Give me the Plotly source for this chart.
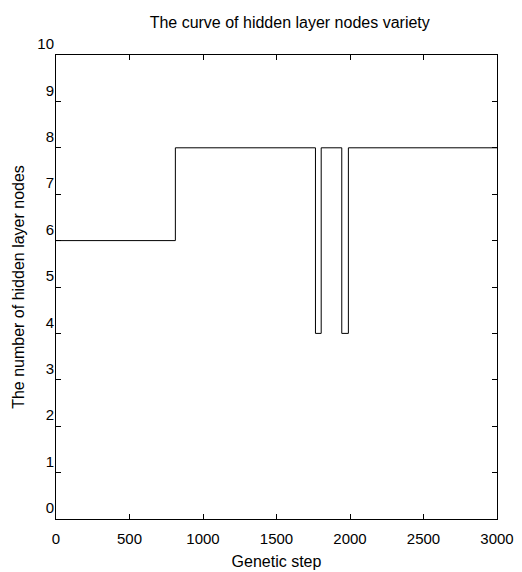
import plotly.graph_objects as go

# Step boundaries (genetic step) and node counts
steps = [0, 812, 812, 1765, 1765, 1804, 1804, 1944, 1944, 1989, 1989, 3000]
nodes = [6, 6, 8, 8, 4, 4, 8, 8, 4, 4, 8, 8]

x_ticks = [0, 500, 1000, 1500, 2000, 2500, 3000]
y_ticks = [0, 1, 2, 3, 4, 5, 6, 7, 8, 9, 10]

fig = go.Figure()
fig.add_trace(go.Scatter(x=steps, y=nodes, mode="lines",
                         line=dict(color="black", width=1), showlegend=False))

font = dict(family="Liberation Sans, Arial, sans-serif", size=15, color="black")

fig.update_layout(
    width=522, height=572,
    margin=dict(l=56, r=25, t=55, b=53, autoexpand=False),
    paper_bgcolor="white", plot_bgcolor="white",
    font=font,
    title=dict(text="The curve of hidden layer nodes variety", x=0.555, xanchor="center",
               y=0.96, yanchor="middle", font=dict(size=16)),
    xaxis=dict(range=[0, 3000], tickvals=x_ticks, ticks="inside", ticklen=5,
               showline=True, linecolor="black", linewidth=1, mirror="ticks",
               showgrid=False, zeroline=False, tickcolor="black", automargin=False,
               ticklabelstandoff=6,
               title=dict(text="Genetic step", standoff=9, font=dict(size=16))),
    yaxis=dict(range=[0, 10], tickvals=y_ticks, ticks="inside", ticklen=5,
               showline=True, linecolor="black", linewidth=1, mirror="ticks",
               showgrid=False, zeroline=False, tickcolor="black", automargin=False,
               ticklabelposition="outside top", ticklabelstandoff=-2,
               title=dict(text="The number of hidden layer nodes", standoff=8,
                          font=dict(size=16))),
)

fig.write_html("out.html", config={"displayModeBar": False},
               post_script="document.body.style.margin='0';")
